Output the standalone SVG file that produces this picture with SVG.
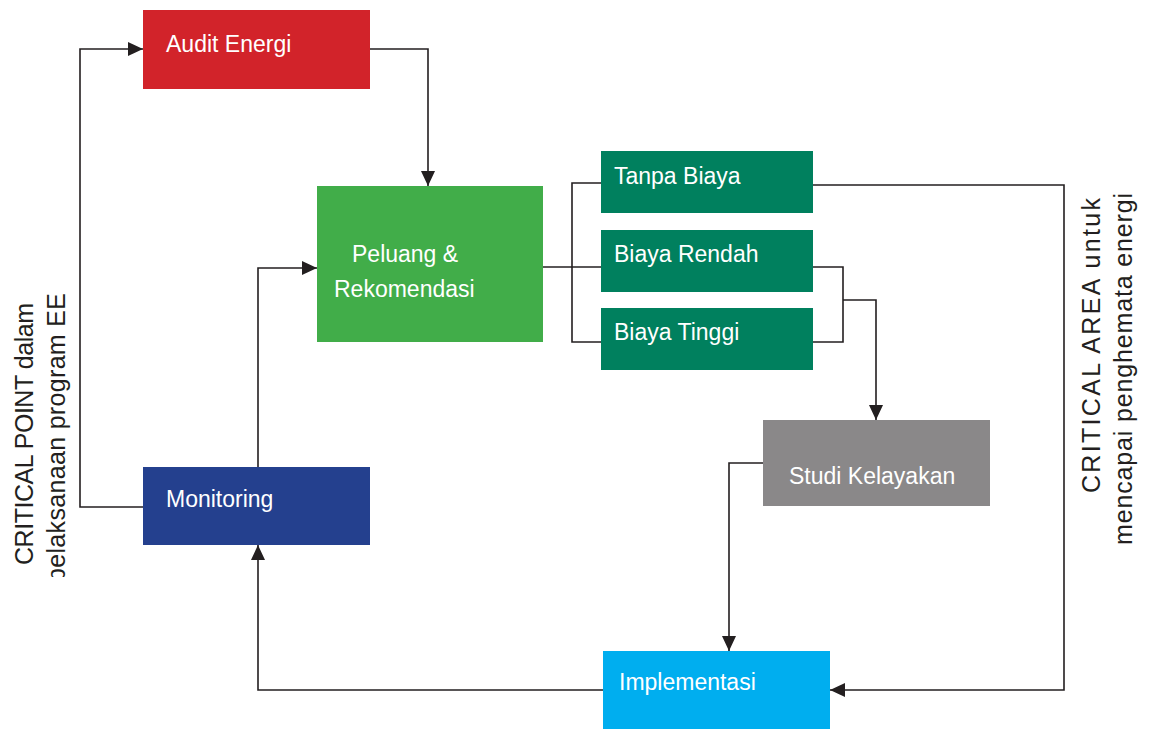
<svg xmlns="http://www.w3.org/2000/svg" width="1149" height="729" viewBox="0 0 1149 729">
<style>
.lbl{font-family:"Liberation Sans",Arial,sans-serif;fill:#ffffff;font-size:23px}
.side{font-family:"Liberation Sans",Arial,sans-serif;fill:#231f20;font-size:25px}
.ln{fill:none;stroke:#231f20;stroke-width:1.6}
.arr{marker-end:url(#ah)}
</style>
<defs>
<marker id="ah" markerUnits="userSpaceOnUse" markerWidth="16" markerHeight="14" refX="15" refY="7" orient="auto">
<path d="M0,0 L15,7 L0,14 z" fill="#231f20"/>
</marker>
<clipPath id="leftclip"><rect x="0" y="0" width="120" height="577"/></clipPath>
</defs>
<rect width="1149" height="729" fill="#ffffff"/>
<g id="connectors">
<polyline class="ln arr" points="143,507 80,507 80,49 143,49"/>
<polyline class="ln arr" points="370,49 428,49 428,186"/>
<polyline class="ln" points="543,267 601,267"/>
<polyline class="ln" points="601,183 572,183 572,342 601,342"/>
<polyline class="ln" points="813,267 843,267 843,342 813,342"/>
<polyline class="ln arr" points="843,300 876,300 876,420"/>
<polyline class="ln arr" points="763,463 729,463 729,651"/>
<polyline class="ln arr" points="805,185 1064,185 1064,690 830,690"/>
<polyline class="ln arr" points="603,690 258,690 258,545"/>
<polyline class="ln arr" points="258,467 258,268 317,268"/>
</g>
<g id="audit-energi">
<rect x="143" y="10" width="227" height="79" fill="#d2232a"/>
<text class="lbl" x="166" y="52" font-size="24">Audit Energi</text>
</g>
<g id="peluang">
<rect x="317" y="186" width="226" height="156" fill="#41ad49"/>
<text class="lbl" x="352" y="262" font-size="22">Peluang &amp;</text>
<text class="lbl" x="334" y="297" font-size="22">Rekomendasi</text>
</g>
<g id="tanpa-biaya">
<rect x="601" y="151" width="212" height="62" fill="#00805e"/>
<text class="lbl" x="614" y="184">Tanpa Biaya</text>
</g>
<g id="biaya-rendah">
<rect x="601" y="230" width="212" height="62" fill="#00805e"/>
<text class="lbl" x="614" y="262">Biaya Rendah</text>
</g>
<g id="biaya-tinggi">
<rect x="601" y="308" width="212" height="62" fill="#00805e"/>
<text class="lbl" x="614" y="340">Biaya Tinggi</text>
</g>
<g id="studi-kelayakan">
<rect x="763" y="420" width="227" height="86" fill="#8a8889"/>
<text class="lbl" x="789" y="484" font-size="24">Studi Kelayakan</text>
</g>
<g id="implementasi">
<rect x="603" y="651" width="227" height="78" fill="#00aeef"/>
<text class="lbl" x="619" y="690" font-size="24">Implementasi</text>
</g>
<g id="monitoring">
<rect x="143" y="467" width="227" height="78" fill="#24408e"/>
<text class="lbl" x="166" y="507" font-size="24">Monitoring</text>
</g>
<g id="critical-point" clip-path="url(#leftclip)">
<text class="side" transform="translate(33,565) rotate(-90)" textLength="262" lengthAdjust="spacing">CRITICAL POINT dalam</text>
<text class="side" transform="translate(65,582) rotate(-90)" textLength="289" lengthAdjust="spacing">pelaksanaan program EE</text>
</g>
<g id="critical-area">
<text class="side" transform="translate(1100,493) rotate(-90)" textLength="295" lengthAdjust="spacing">CRITICAL AREA untuk</text>
<text class="side" transform="translate(1132,545) rotate(-90)" textLength="352" lengthAdjust="spacing">mencapai penghemata energi</text>
</g>
</svg>
